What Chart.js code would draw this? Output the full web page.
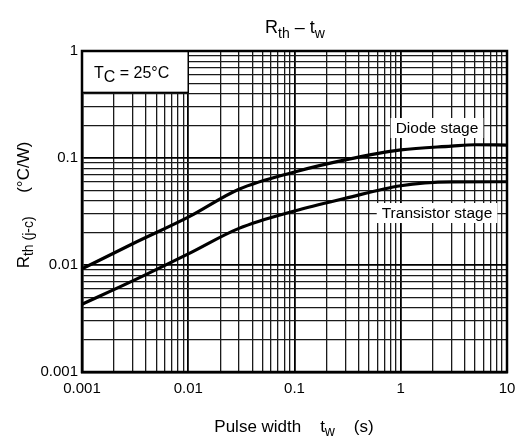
<!DOCTYPE html>
<html lang="en">
<head>
    <meta charset="UTF-8">
    <title>Rth - tw</title>
    <style>
        body { margin: 0; background: #fff; }
        #wrap { width: 525px; height: 438px; }
    </style>
</head>
<body>
<div id="wrap"><canvas id="rthChart" width="525" height="438"></canvas></div>

<script src="https://cdn.jsdelivr.net/npm/chart.js"></script>
<script>
    // pulse width (s)
    const diodeX = [0.001, 0.003, 0.01, 0.03, 0.1, 0.3, 1, 3, 5, 10];
    const diodeY = [0.0092, 0.0158, 0.028, 0.051, 0.074, 0.096, 0.119, 0.129, 0.133, 0.132];
    const transX = [0.001, 0.003, 0.01, 0.03, 0.1, 0.3, 1, 3, 10];
    const transY = [0.0043, 0.0071, 0.0127, 0.022, 0.032, 0.042, 0.055, 0.0597, 0.060];

    const xDecades = [0.001, 0.01, 0.1, 1, 10];
    const yDecades = [0.001, 0.01, 0.1, 1];
    const xTickLabels = ['0.001', '0.01', '0.1', '1', '10'];
    const yTickLabels = ['0.001', '0.01', '0.1', '1'];

    const FONT = 'Liberation Sans, Arial, sans-serif';

    function gridValues(decades) {
        const out = [];
        for (let i = 0; i < decades.length; i++) {
            out.push(decades[i]);
            if (i < decades.length - 1) {
                for (let m = 2; m <= 9; m++) out.push(+(decades[i] * m).toPrecision(3));
            }
        }
        return out;
    }

    function isDecade(v, decades) {
        return decades.some(d => Math.abs(d - v) / d < 1e-6);
    }

    function pairs(xs, ys) {
        return xs.map((x, i) => ({ x: x, y: ys[i] }));
    }

    // draws text made of [text, isSub] pieces, starting at x
    function drawParts(ctx, parts, x, y, size, subSize) {
        parts.forEach(p => {
            ctx.font = (p[1] ? subSize : size) + 'px ' + FONT;
            ctx.fillText(p[0], x, y + (p[1] ? size * 0.25 : 0));
            x += ctx.measureText(p[0]).width;
        });
        return x;
    }
    function partsWidth(ctx, parts, size, subSize) {
        let w = 0;
        parts.forEach(p => {
            ctx.font = (p[1] ? subSize : size) + 'px ' + FONT;
            w += ctx.measureText(p[0]).width;
        });
        return w;
    }

    const textPlugin = {
        id: 'textPlugin',
        afterDatasetsDraw(chart) {
            const ctx = chart.ctx;
            const xs = chart.scales.x, ys = chart.scales.y;
            ctx.save();
            ctx.fillStyle = '#000';
            ctx.textBaseline = 'alphabetic';
            ctx.textAlign = 'left';

            // Tc box
            const bx0 = xs.getPixelForValue(0.001), bx1 = xs.getPixelForValue(0.01);
            const by0 = ys.getPixelForValue(1), by1 = ys.getPixelForValue(0.41);
            ctx.fillStyle = '#fff';
            ctx.fillRect(bx0, by0, bx1 - bx0, by1 - by0);
            ctx.strokeStyle = '#000';
            ctx.lineWidth = 1.5;
            ctx.strokeRect(bx0, by0, bx1 - bx0, by1 - by0);
            ctx.fillStyle = '#000';
            drawParts(ctx, [['T', false], ['C', true], [' = 25°C', false]], bx0 + 12, by0 + 27, 16, 16);

            // curve labels
            ctx.font = '15.5px ' + FONT;
            const labels = [['Diode stage', 437, 128], ['Transistor stage', 437, 213]];
            labels.forEach(l => {
                const w = ctx.measureText(l[0]).width;
                ctx.fillStyle = '#fff';
                ctx.fillRect(l[1] - w / 2 - 5, l[2] - 10, w + 10, 20);
                ctx.fillStyle = '#000';
                ctx.textAlign = 'center';
                ctx.textBaseline = 'middle';
                ctx.fillText(l[0], l[1], l[2] + 1);
            });
            ctx.textAlign = 'left';
            ctx.textBaseline = 'alphabetic';

            // title
            const tParts = [['R', false], ['th', true], [' \u2013 t', false], ['w', true]];
            const tw = partsWidth(ctx, tParts, 18, 14);
            drawParts(ctx, tParts, 295 - tw / 2, 33, 18, 14);

            // x axis title
            const xParts = [['Pulse width    t', false], ['w', true], ['    (s)', false]];
            const xw = partsWidth(ctx, xParts, 17, 14);
            drawParts(ctx, xParts, 294 - xw / 2, 432, 17, 14);

            // y axis title
            ctx.translate(29, 205);
            ctx.rotate(-Math.PI / 2);
            const yParts = [['R', false], ['th', true], [' (j-c)', true], ['     (°C/W)', false]];
            const yw = partsWidth(ctx, yParts, 17, 14);
            drawParts(ctx, yParts, -yw / 2, 0, 17, 14);
            ctx.restore();
        }
    };

    const gridColor = ctx => isDecade(ctx.tick.value, ctx.scale.axis === 'x' ? xDecades : yDecades) ? '#000' : '#1a1a1a';
    const gridWidth = ctx => isDecade(ctx.tick.value, ctx.scale.axis === 'x' ? xDecades : yDecades) ? 1.8 : 1.3;

    new Chart(document.getElementById('rthChart'), {
        type: 'line',
        data: {
            datasets: [
                {
                    label: 'Diode stage',
                    data: pairs(diodeX, diodeY),
                    borderColor: '#000',
                    borderWidth: 3.2,
                    pointRadius: 0,
                    cubicInterpolationMode: 'monotone',
                    fill: false
                },
                {
                    label: 'Transistor stage',
                    data: pairs(transX, transY),
                    borderColor: '#000',
                    borderWidth: 3.2,
                    pointRadius: 0,
                    cubicInterpolationMode: 'monotone',
                    fill: false
                }
            ]
        },
        options: {
            responsive: false,
            animation: false,
            devicePixelRatio: 1,
            layout: { padding: { left: 0, top: 51, right: 18, bottom: 0 } },
            plugins: {
                legend: { display: false },
                title: { display: false },
                tooltip: { enabled: false }
            },
            scales: {
                x: {
                    type: 'logarithmic',
                    min: 0.001,
                    max: 10,
                    afterBuildTicks: s => { s.ticks = gridValues(xDecades).map(v => ({ value: v })); },
                    afterFit: s => { s.height = 66; },
                    ticks: {
                        autoSkip: false,
                        maxRotation: 0,
                        padding: 8,
                        color: '#000',
                        font: { family: FONT, size: 15 },
                        callback: v => {
                            const i = xDecades.findIndex(d => Math.abs(d - v) / d < 1e-6);
                            return i >= 0 ? xTickLabels[i] : '';
                        }
                    },
                    grid: { drawTicks: false, color: gridColor, lineWidth: gridWidth },
                    border: { display: true, color: '#000', width: 2.5 }
                },
                y: {
                    type: 'logarithmic',
                    min: 0.001,
                    max: 1,
                    afterBuildTicks: s => { s.ticks = gridValues(yDecades).map(v => ({ value: v })); },
                    afterFit: s => { s.width = 82; },
                    ticks: {
                        autoSkip: false,
                        padding: 4,
                        color: '#000',
                        font: { family: FONT, size: 15 },
                        callback: v => {
                            const i = yDecades.findIndex(d => Math.abs(d - v) / d < 1e-6);
                            return i >= 0 ? yTickLabels[i] : '';
                        }
                    },
                    grid: { drawTicks: false, color: gridColor, lineWidth: gridWidth },
                    border: { display: true, color: '#000', width: 2.5 }
                }
            }
        },
        plugins: [textPlugin, {
            id: 'frame',
            afterDraw(chart) {
                const a = chart.chartArea, ctx = chart.ctx;
                ctx.save();
                ctx.strokeStyle = '#000';
                ctx.lineWidth = 2.5;
                ctx.strokeRect(a.left, a.top, a.right - a.left, a.bottom - a.top);
                ctx.restore();
            }
        }]
    });
</script>
</body>
</html>
